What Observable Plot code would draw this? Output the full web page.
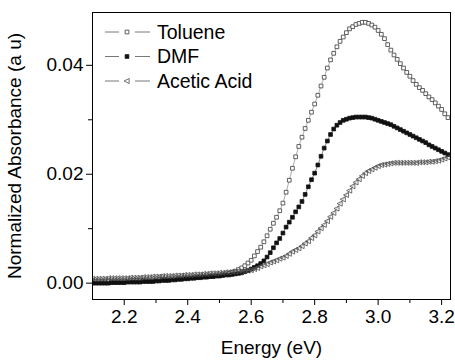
<!DOCTYPE html>
<html><head><meta charset="utf-8">
<script src="https://cdn.jsdelivr.net/npm/d3@7"></script>
<script src="https://cdn.jsdelivr.net/npm/@observablehq/plot@0.6"></script>
<style>
body{margin:0;background:#fff;font-family:"Liberation Sans",Arial,sans-serif}
#wrap{position:relative;width:455px;height:360px}
#legend{position:absolute;left:0;top:0}
</style></head><body><div id="wrap"></div>
<script>
const energy = [2.10,2.11,2.12,2.13,2.14,2.15,2.16,2.17,2.18,2.19,
2.20,2.21,2.22,2.23,2.24,2.25,2.26,2.27,2.28,2.29,
2.30,2.31,2.32,2.33,2.34,2.35,2.36,2.37,2.38,2.39,
2.40,2.41,2.42,2.43,2.44,2.45,2.46,2.47,2.48,2.49,
2.50,2.51,2.52,2.53,2.54,2.55,2.56,2.57,2.58,2.59,
2.60,2.61,2.62,2.63,2.64,2.65,2.66,2.67,2.68,2.69,
2.70,2.71,2.72,2.73,2.74,2.75,2.76,2.77,2.78,2.79,
2.80,2.81,2.82,2.83,2.84,2.85,2.86,2.87,2.88,2.89,
2.90,2.91,2.92,2.93,2.94,2.95,2.96,2.97,2.98,2.99,
3.00,3.01,3.02,3.03,3.04,3.05,3.06,3.07,3.08,3.09,
3.10,3.11,3.12,3.13,3.14,3.15,3.16,3.17,3.18,3.19,
3.20,3.21,3.22];
const toluene = [0.0003,0.0003,0.0003,0.0003,0.0003,0.0004,0.0004,0.0004,0.0004,0.0004,
0.0004,0.0004,0.0005,0.0005,0.0005,0.0005,0.0005,0.0006,0.0006,0.0006,
0.0006,0.0007,0.0007,0.0007,0.0008,0.0008,0.0008,0.0009,0.0009,0.0010,
0.0010,0.0010,0.0011,0.0011,0.0012,0.0012,0.0013,0.0013,0.0014,0.0014,
0.0015,0.0016,0.0017,0.0018,0.0020,0.0022,0.0025,0.0028,0.0032,0.0037,
0.0042,0.0050,0.0058,0.0066,0.0076,0.0087,0.0099,0.0110,0.0121,0.0133,
0.0147,0.0167,0.0189,0.0211,0.0232,0.0251,0.0268,0.0284,0.0299,0.0314,
0.0329,0.0345,0.0362,0.0378,0.0395,0.0410,0.0422,0.0434,0.0444,0.0452,
0.0460,0.0467,0.0471,0.0475,0.0477,0.0479,0.0479,0.0477,0.0474,0.0470,
0.0464,0.0457,0.0449,0.0438,0.0428,0.0419,0.0411,0.0403,0.0395,0.0387,
0.0380,0.0372,0.0365,0.0359,0.0354,0.0348,0.0342,0.0337,0.0331,0.0325,
0.0319,0.0311,0.0304];
const dmf = [0.0000,0.0000,0.0000,0.0000,0.0000,0.0000,0.0001,0.0001,0.0001,0.0001,
0.0001,0.0002,0.0002,0.0002,0.0002,0.0002,0.0003,0.0003,0.0003,0.0003,
0.0004,0.0004,0.0005,0.0005,0.0005,0.0006,0.0006,0.0007,0.0007,0.0008,
0.0008,0.0009,0.0009,0.0010,0.0010,0.0011,0.0011,0.0012,0.0012,0.0013,
0.0013,0.0014,0.0015,0.0015,0.0016,0.0017,0.0018,0.0019,0.0021,0.0023,
0.0026,0.0029,0.0032,0.0036,0.0041,0.0048,0.0056,0.0065,0.0074,0.0082,
0.0092,0.0103,0.0112,0.0121,0.0131,0.0140,0.0150,0.0163,0.0177,0.0190,
0.0202,0.0217,0.0233,0.0248,0.0261,0.0273,0.0283,0.0290,0.0295,0.0299,
0.0301,0.0303,0.0304,0.0305,0.0305,0.0305,0.0305,0.0304,0.0303,0.0301,
0.0299,0.0297,0.0295,0.0293,0.0291,0.0288,0.0285,0.0282,0.0279,0.0276,
0.0273,0.0270,0.0267,0.0264,0.0261,0.0258,0.0254,0.0251,0.0248,0.0245,
0.0242,0.0239,0.0236];
const aceticAcid = [0.0008,0.0008,0.0008,0.0008,0.0008,0.0009,0.0009,0.0009,0.0009,0.0009,
0.0009,0.0009,0.0010,0.0010,0.0010,0.0010,0.0011,0.0011,0.0011,0.0012,
0.0012,0.0012,0.0013,0.0013,0.0013,0.0013,0.0014,0.0014,0.0014,0.0015,
0.0015,0.0015,0.0016,0.0016,0.0016,0.0017,0.0017,0.0018,0.0018,0.0018,
0.0019,0.0019,0.0020,0.0020,0.0021,0.0021,0.0022,0.0022,0.0023,0.0023,
0.0024,0.0026,0.0028,0.0031,0.0033,0.0035,0.0038,0.0040,0.0042,0.0045,
0.0047,0.0050,0.0054,0.0058,0.0061,0.0064,0.0068,0.0073,0.0077,0.0083,
0.0088,0.0095,0.0101,0.0107,0.0114,0.0122,0.0129,0.0137,0.0146,0.0154,
0.0162,0.0170,0.0178,0.0185,0.0191,0.0197,0.0202,0.0206,0.0209,0.0212,
0.0215,0.0217,0.0218,0.0219,0.0220,0.0221,0.0221,0.0221,0.0221,0.0221,
0.0221,0.0221,0.0221,0.0222,0.0222,0.0222,0.0223,0.0223,0.0224,0.0225,
0.0227,0.0229,0.0231];
const seriesNames = ["Toluene","DMF","Acetic Acid"];
const xTicks = [2.2,2.4,2.6,2.8,3.0,3.2];
const xMinorTicks = [2.3,2.5,2.7,2.9,3.1];
const yTicks = [0.00,0.02,0.04];
const yMinorTicks = [0.01,0.03];

const FONT = "'Liberation Sans', Arial, sans-serif";
const leftTriangle = {
  draw(context, size) {
    const s = Math.sqrt(size) * 0.62;
    context.moveTo(-s * 1.15, 0);
    context.lineTo(s * 0.85, -s);
    context.lineTo(s * 0.85, s);
    context.closePath();
  }
};
const styles = {
  "Toluene": {symbol: "square", r: 2.1, fill: "white", stroke: "#3a3a3a", line: "#888"},
  "DMF": {symbol: "square", r: 2.1, fill: "#111", stroke: "#111", line: "#555"},
  "Acetic Acid": {symbol: leftTriangle, r: 2.3, fill: "none", stroke: "#4a4a4a", line: "#999"}
};
const valuesBySeries = {"Toluene": toluene, "DMF": dmf, "Acetic Acid": aceticAcid};

const seriesMarks = seriesNames.flatMap(name => {
  const data = energy.map((e, i) => ({energy: e, value: valuesBySeries[name][i]}));
  const st = styles[name];
  return [
    Plot.line(data, {x: "energy", y: "value", stroke: st.line, strokeWidth: 0.7, clip: true}),
    Plot.dot(data, {x: "energy", y: "value", symbol: st.symbol, r: st.r, fill: st.fill, stroke: st.stroke, strokeWidth: 0.8, clip: true})
  ];
});

const plot = Plot.plot({
  width: 455, height: 360,
  marginLeft: 92, marginRight: 5, marginTop: 12, marginBottom: 61,
  style: {fontFamily: FONT, fontSize: "19px", color: "#000", background: "#fff"},
  x: {domain: [2.1, 3.228]},
  y: {domain: [-0.003, 0.0497]},
  marks: [
    Plot.axisX({ticks: xMinorTicks, tickSize: 4, tickFormat: () => "", label: null}),
    Plot.axisY({ticks: yMinorTicks, tickSize: 4, tickFormat: () => "", label: null}),
    Plot.axisX({ticks: xTicks, tickSize: 6, tickPadding: 4, tickFormat: d => d.toFixed(1),
      label: "Energy (eV)", labelAnchor: "center", labelArrow: "none", labelOffset: 54}),
    Plot.axisY({ticks: yTicks, tickSize: 6, tickPadding: 3, tickFormat: d => d.toFixed(2),
      label: "Normalized Absorbance (a u)", labelAnchor: "center", labelArrow: "none", labelOffset: 85}),
    ...seriesMarks,
    Plot.frame({stroke: "#000", strokeWidth: 1})
  ]
});

const wrap = document.getElementById("wrap");
wrap.appendChild(plot);

// legend overlay
const legend = d3.select(wrap).append("svg").attr("id", "legend").attr("width", 455).attr("height", 360);
seriesNames.forEach((name, i) => {
  const st = styles[name];
  const cy = 32 + i * 24.5;
  const g = legend.append("g").attr("transform", `translate(0,${cy})`);
  g.append("line").attr("x1", 105).attr("x2", 119).attr("y1", 0).attr("y2", 0).attr("stroke", "#555").attr("stroke-width", 0.8);
  g.append("line").attr("x1", 135).attr("x2", 150).attr("y1", 0).attr("y2", 0).attr("stroke", "#555").attr("stroke-width", 0.8);
  const sym = st.symbol === "square" ? d3.symbolSquare : leftTriangle;
  g.append("path").attr("d", d3.symbol(sym, Math.PI * st.r * st.r)()).attr("transform", "translate(127,0)")
    .attr("fill", st.fill).attr("stroke", st.stroke).attr("stroke-width", 0.8);
  g.append("text").attr("x", 157).attr("y", 0).attr("dy", "0.35em").attr("font-size", 19.5)
    .attr("font-family", FONT).text(name);
});
</script></body></html>
